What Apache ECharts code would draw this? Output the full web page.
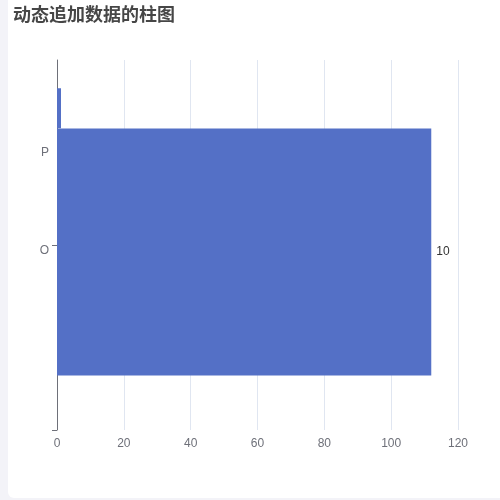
<!DOCTYPE html>
<html>
<head>
<meta charset="utf-8">
<script src="https://cdn.jsdelivr.net/npm/echarts@6/dist/echarts.min.js"></script>
<style>
  html, body { margin: 0; padding: 0; background: #f3f3f8; }
  #card {
    position: absolute; left: 8px; top: 0; width: 492px; height: 498px;
    background: #fff; border-radius: 0 0 0 6px;
  }
  #main { width: 492px; height: 498px; }
</style>
</head>
<body>
<div id="card"><div id="main"></div></div>
<script>
// categories, top to bottom
const categories = ["", "P", "O", "", ""];
const mainValues = [null, null, 112, null, null];
const barLabels = ["", "", "10", "", ""];
// thin bar still growing in at the top
const thinSlots = ["", "", "", ""];
const thinValues = [1.2, null, null, null];
const xTicks = [0, 20, 40, 60, 80, 100, 120];

var chart = echarts.init(document.getElementById("main"));

// empty series used only to push a bar a few pixels down inside its slot
function spacer(axisIndex, width) {
  return {
    type: "bar",
    yAxisIndex: axisIndex,
    data: [],
    barWidth: width,
    barGap: 0,
    silent: true,
  };
}

var option = {
  animation: false,
  title: {
    text: "动态追加数据的柱图",
    left: 0,
    top: 0,
    textStyle: {
      fontFamily: "Noto Sans CJK SC",
      fontSize: 18,
      fontWeight: "bold",
      color: "#464646",
    },
  },
  grid: { left: 49, right: 42, top: 60, bottom: 68 },
  xAxis: {
    type: "value",
    min: xTicks[0],
    max: xTicks[xTicks.length - 1],
    interval: 20,
    axisLabel: { color: "#6E7079", fontSize: 12 },
    splitLine: { lineStyle: { color: "#E0E6F1" } },
  },
  yAxis: [
    {
      type: "category",
      data: categories,
      inverse: true,
      boundaryGap: false,
      axisTick: { interval: (i) => i === 2 || i === 4 },
      axisLine: { lineStyle: { color: "#6E7079" } },
      axisLabel: {
        color: "#6E7079",
        fontSize: 12,
        formatter: (v, i) => (i === 2 ? "{low|" + v + "}" : v),
        rich: { low: { padding: [12, 0, 0, 0], color: "#6E7079", fontSize: 12 } },
      },
    },
    {
      type: "category",
      data: thinSlots,
      inverse: true,
      position: "left",
      show: false,
    },
  ],
  series: [
    spacer(0, 14),
    {
      type: "bar",
      yAxisIndex: 0,
      data: mainValues,
      barWidth: 247,
      barGap: 0,
      itemStyle: { color: "#5470C6" },
      label: {
        show: true,
        position: "right",
        color: "#333",
        fontSize: 12,
        formatter: (p) => barLabels[p.dataIndex],
      },
    },
    spacer(1, 4),
    {
      type: "bar",
      yAxisIndex: 1,
      data: thinValues,
      barWidth: 40,
      barGap: 0,
      itemStyle: { color: "#5470C6" },
    },
  ],
};

chart.setOption(option);
</script>
</body>
</html>
